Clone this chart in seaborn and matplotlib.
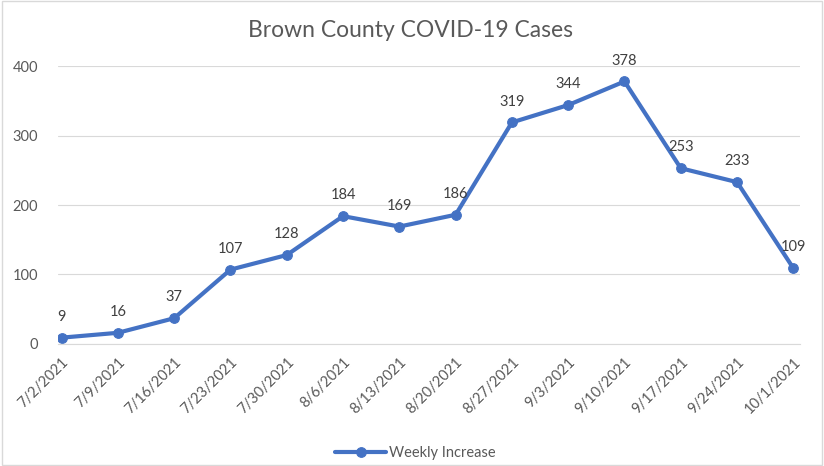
import pandas as pd
import matplotlib.pyplot as plt
import seaborn as sns
from matplotlib.patches import Rectangle

dates = ['7/2/2021', '7/9/2021', '7/16/2021', '7/23/2021', '7/30/2021', '8/6/2021',
         '8/13/2021', '8/20/2021', '8/27/2021', '9/3/2021', '9/10/2021', '9/17/2021',
         '9/24/2021', '10/1/2021']
weekly_increase = [9, 16, 37, 107, 128, 184, 169, 186, 319, 344, 378, 253, 233, 109]

df = pd.DataFrame({'pos': range(len(dates)), 'Weekly Increase': weekly_increase})

sns.set_style('white')
plt.rcParams['font.family'] = ['Lato', 'DejaVu Sans']
gray = '#595959'
blue = '#4472C4'

fig = plt.figure(figsize=(8.24, 4.66), dpi=100)
ax = fig.add_axes([0.070, 0.262, 0.901, 0.596])

sns.lineplot(data=df, x='pos', y='Weekly Increase', sort=False, color=blue,
             linewidth=3, marker='o', markersize=7, markeredgecolor=blue,
             label='Weekly Increase', ax=ax)

for x, y in zip(df['pos'], weekly_increase):
    ax.annotate(str(y), (x, y), xytext=(0, 10), textcoords='offset points',
                ha='center', va='bottom', fontsize=10.5, color='#404040')

ax.set_xlim(-0.07, 13.12)
ax.set_ylim(0, 400)
ax.set_yticks([0, 100, 200, 300, 400])
ax.set_xticks(range(len(dates)))
ax.set_xticklabels(dates, rotation=45, ha='right', rotation_mode='anchor')
ax.tick_params(axis='x', colors=gray, labelsize=10.5, length=5, width=0.8,
               direction='out', color='#D9D9D9', pad=3)
ax.tick_params(axis='y', colors=gray, labelsize=10.5, length=0, pad=14)
ax.yaxis.grid(True, color='#D9D9D9', linewidth=0.8)
ax.set_axisbelow(True)
for s in ['top', 'right', 'left']:
    ax.spines[s].set_visible(False)
ax.spines['bottom'].set_color('#D9D9D9')
ax.set_xlabel('')
ax.set_ylabel('')

fig.text(0.498, 0.935, 'Brown County COVID-19 Cases', fontsize=16.5, color=gray,
         ha='center', va='center')

ax.legend(loc='upper center', bbox_to_anchor=(0.482, -0.32), frameon=False,
          fontsize=10.5, labelcolor=gray, handlelength=3.5, handletextpad=0.2)

fig.patches.append(Rectangle((0.002, 0.003), 0.996, 0.994, transform=fig.transFigure,
                             fill=False, edgecolor='#D9D9D9', linewidth=1))

fig.savefig('out.png', dpi=100)
